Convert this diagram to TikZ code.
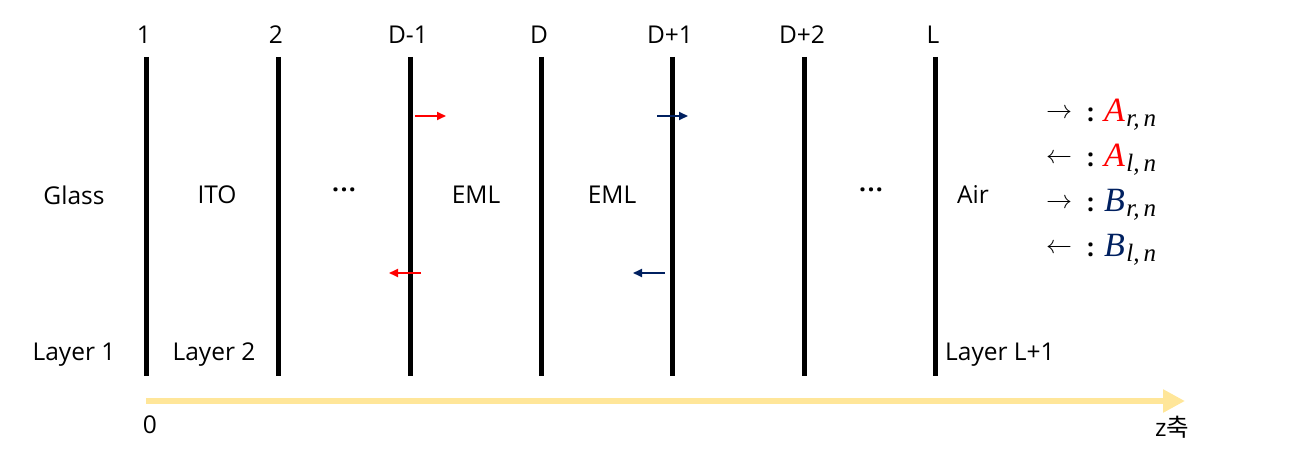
\documentclass[tikz,border=0pt]{standalone}
\usepackage{fontspec}
\setmainfont{Open Sans}
\newfontfamily\krfont{Noto Sans CJK KR}
\newfontfamily\legfont{Liberation Serif}
\newfontfamily\arrowfont{Latin Modern Math}
\usetikzlibrary{arrows.meta}
\definecolor{axisyellow}{HTML}{FFE699}
\definecolor{darkblue}{HTML}{002060}
\newcommand{\legrow}[5]{\raisebox{3.5pt}{\arrowfont\fontsize{26}{28}\selectfont #1}\hspace{15pt}\textbf{:}\hspace{10pt}{\color{#5}\legfont\itshape\fontsize{34}{36}\selectfont #2}\raisebox{-5pt}{\legfont\itshape\fontsize{25}{27}\selectfont\hspace{1.5pt}#3,\hspace{4pt}#4}}
\begin{document}
\begin{tikzpicture}[x=1pt,y=-1pt,
  lbl/.style={font=\fontsize{24.5}{28}\selectfont, inner sep=0pt},
  iface/.style={line width=5pt},
  wave/.style={line width=2pt, -{Triangle[length=9pt,width=8pt]}},
  leg/.style={font=\fontsize{24.5}{28}\selectfont, inner sep=0pt, anchor=base west}]
\useasboundingbox (0,0) rectangle (1304,473);
% interfaces
\foreach \n/\x/\t in {i1/146/1, i2/278/2, i3/410/D-1, i4/541/D, i5/672/D+1, i6/804/D+2, i7/935/L}{
  \coordinate (\n top) at (\x,57);
  \coordinate (\n bot) at (\x,376);
  \draw[iface] (\n top) -- (\n bot);
  \node[lbl] (\n lab) at (\x-2,35) {\t};
}
% layer names
\node[lbl] (glass) at (74,195) {Glass};
\node[lbl] (ito) at (217,195) {ITO};
\node[lbl] (dots1) at (344,193) {\textbf{·\hspace{1.5pt}·\hspace{1.5pt}·}};
\node[lbl] (eml1) at (476,195) {EML};
\node[lbl] (eml2) at (612,195) {EML};
\node[lbl] (dots2) at (871,193) {\textbf{·\hspace{1.5pt}·\hspace{1.5pt}·}};
\node[lbl] (air) at (973,195) {Air};
% bottom labels
\node[lbl] (lay1) at (74,355) {Layer 1};
\node[lbl] (lay2) at (214,355) {Layer 2};
\node[lbl, anchor=west] (layL) at (945,355) {Layer L+1};
% waves
\coordinate (ar0) at (415,116); \coordinate (ar1) at (446,116);
\coordinate (al0) at (421,273); \coordinate (al1) at (389,273);
\coordinate (br0) at (657,116); \coordinate (br1) at (688,116);
\coordinate (bl0) at (665,273); \coordinate (bl1) at (633,273);
\draw[wave, red] (ar0) -- (ar1);
\draw[wave, red] (al0) -- (al1);
\draw[wave, darkblue] (br0) -- (br1);
\draw[wave, darkblue] (bl0) -- (bl1);
% legend
\node[leg] (l1) at (1046,122) {\legrow{→}{A}{r}{n}{red}};
\node[leg] (l2) at (1046,167) {\legrow{←}{A}{l}{n}{red}};
\node[leg] (l3) at (1046,212) {\legrow{→}{B}{r}{n}{darkblue}};
\node[leg] (l4) at (1046,257) {\legrow{←}{B}{l}{n}{darkblue}};
% axis
\coordinate (ax0) at (146,401);
\coordinate (ax1) at (1185,401);
\draw[axisyellow, line width=6pt, -{Triangle[length=22pt,width=22pt]}] (ax0) -- (ax1);
\node[lbl] (zero) at (150,425) {0};
\node[lbl] (zaxis) at (1172,427) {z\krfont 축};
\end{tikzpicture}
\end{document}
